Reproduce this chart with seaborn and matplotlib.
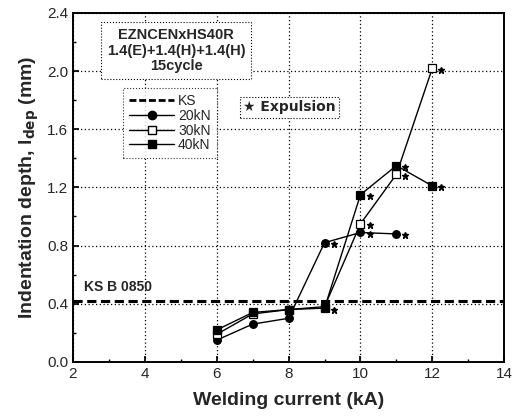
import matplotlib
matplotlib.use("Agg")
import matplotlib.pyplot as plt
import matplotlib.transforms as mtransforms
from matplotlib.lines import Line2D
import seaborn as sns
import pandas as pd

current = [6, 7, 8, 9, 10, 11, 12]
depth_20kN = [0.15, 0.26, 0.30, 0.82, 0.89, 0.88]
depth_30kN = [0.19, 0.33, 0.36, 0.38, 0.95, 1.29, 2.02]
depth_40kN = [0.22, 0.34, 0.36, 0.37, 1.15, 1.35, 1.21]
ks_level = 0.42
expulsion_20kN = [9, 10, 11]
expulsion_30kN = [10, 11, 12]
expulsion_40kN = [9, 10, 11, 12]

sns.set_theme(style="ticks")
plt.rcParams['font.family'] = ['Liberation Sans', 'DejaVu Sans']

fig = plt.figure(figsize=(5.14, 4.16), dpi=100)
ax = fig.add_axes([0.142, 0.130, 0.839, 0.839])

series = [
    ("20kN", depth_20kN, expulsion_20kN, dict(marker="o", mfc="black", mec="black", ms=5.5)),
    ("30kN", depth_30kN, expulsion_30kN, dict(marker="s", mfc="white", mec="black", ms=5.5)),
    ("40kN", depth_40kN, expulsion_40kN, dict(marker="s", mfc="black", mec="black", ms=6)),
]

star_tr = mtransforms.offset_copy(ax.transData, fig=fig, x=6.5, y=-1, units='points')
for name, ys, exps, style in series:
    df = pd.DataFrame({"x": current[:len(ys)], "y": ys})
    sns.lineplot(data=df, x="x", y="y", ax=ax, color="black", lw=1.0,
                 marker=style["marker"], markersize=style["ms"],
                 markerfacecolor=style["mfc"], markeredgecolor=style["mec"],
                 markeredgewidth=0.9, legend=False)
    ex = pd.DataFrame({"x": exps, "y": [ys[current.index(v)] for v in exps]})
    ax.plot(ex["x"], ex["y"], linestyle="none", marker="*", color="black",
            ms=5, transform=star_tr)

ax.axhline(ks_level, color="black", lw=2.2, ls=(0, (3, 1.5)))

ax.set_xlim(2, 14)
ax.set_ylim(0.0, 2.4)
ax.set_xticks([2, 4, 6, 8, 10, 12, 14])
ax.set_xticks(range(2, 15), minor=True)
ax.set_yticks([0.0, 0.4, 0.8, 1.2, 1.6, 2.0, 2.4])
ax.set_yticks([0.2 * i for i in range(13)], minor=True)
ax.set_yticklabels(["0.0", "0.4", "0.8", "1.2", "1.6", "2.0", "2.4"])
ax.grid(True, which="major", color="black", ls=(0, (1, 2)), lw=0.9)
ax.tick_params(axis="both", which="major", direction="in", length=4, labelsize=11, color="black")
ax.tick_params(axis="both", which="minor", direction="in", length=2, color="black")
for s in ax.spines.values():
    s.set_color("black")
    s.set_linewidth(1.4)

ax.set_xlabel("Welding current (kA)", fontsize=14, fontweight="bold", labelpad=8)
ax.set_ylabel(r"Indentation depth, l$_{\mathbf{dep}}$ (mm)", fontsize=14, fontweight="bold", labelpad=4)

ax.text(2.3, 0.47, "KS B 0850", fontsize=10, fontweight="bold", ha="left", va="bottom")

ax.text(4.87, 2.14, "EZNCENxHS40R\n1.4(E)+1.4(H)+1.4(H)\n15cycle", fontsize=10.5,
        fontweight="bold", ha="center", va="center", linespacing=1.15,
        bbox=dict(boxstyle="square,pad=0.4", fc="white", ec="black", lw=0.8, ls=":"))

ax.text(8.03, 1.75, "\u2605 Expulsion", fontsize=10, fontweight="bold",
        ha="center", va="center", family=['DejaVu Sans'],
        bbox=dict(boxstyle="square,pad=0.25", fc="white", ec="black", lw=0.8, ls=":"))

handles = [
    Line2D([], [], color="black", lw=2, ls=(0, (2.5, 1))),
    Line2D([], [], color="black", lw=1, marker="o", mfc="black", ms=6),
    Line2D([], [], color="black", lw=1, marker="s", mfc="white", ms=6),
    Line2D([], [], color="black", lw=1, marker="s", mfc="black", ms=6),
]
leg = ax.legend(handles, ["KS", "20kN", "30kN", "40kN"], loc="upper left",
                bbox_to_anchor=(0.10, 0.805), fontsize=10, frameon=True,
                fancybox=False, handlelength=3.2, borderpad=0.45, labelspacing=0.05,
                handletextpad=0.3)
leg.get_frame().set_edgecolor("black")
leg.get_frame().set_linestyle(":")
leg.get_frame().set_linewidth(0.8)

fig.savefig("out.png", dpi=100)
